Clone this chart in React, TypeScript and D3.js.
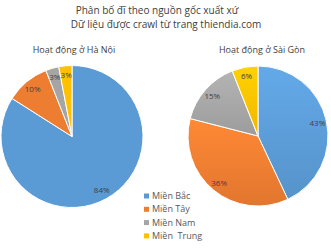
import React from "react";
import * as d3 from "d3";

const categories = ["Miền Bắc", "Miền Tây", "Miền Nam", "Miền  Trung"];
const hanoiValues = [84, 10, 3, 3];
const saigonValues = [43, 36, 15, 6];
const colors = ["#5B9BD5", "#ED7D31", "#A5A5A5", "#FFC000"];
const titleLines = ["Phân bố đĩ theo nguồn gốc xuất xứ", "Dữ liệu được crawl từ trang thiendia.com"];
const pieTitles = ["Hoạt động ở Hà Nội", "Hoạt động ở Sài Gòn"];

const FONT = "'Open Sans', 'Noto Sans', sans-serif";

function Pie({ values, cx, cy, r, title, titleX, gradient, idp }: any) {
  const pie = d3.pie<number>().sort(null).value((d) => d);
  const arcs = pie(values);
  const arc = d3.arc<any>().innerRadius(0).outerRadius(r);
  const labelArc = d3.arc<any>().innerRadius(r * 0.87).outerRadius(r * 0.87);
  return (
    <g>
      {gradient && (
        <defs>
          {colors.map((c, i) => (
            <linearGradient key={i} id={`${idp}g${i}`} x1="0" y1="0" x2="0" y2="1">
              <stop offset="0" stopColor={d3.color(c)!.brighter(0.25).toString()} />
              <stop offset="1" stopColor={d3.color(c)!.darker(0.15).toString()} />
            </linearGradient>
          ))}
        </defs>
      )}
      <text x={titleX} y={53} textAnchor="middle" fontSize={9} fill="#404040" fontFamily={FONT}>
        {title}
      </text>
      <g transform={`translate(${cx},${cy})`}>
        {arcs.map((a, i) => (
          <path
            key={i}
            d={arc(a) || ""}
            fill={gradient ? `url(#${idp}g${i})` : colors[i]}
            stroke="#fff"
            strokeWidth={1}
          />
        ))}
        {arcs.map((a, i) => {
          const [x, y] = labelArc.centroid(a);
          return (
            <text key={i} x={x} y={y} dy="0.35em" textAnchor="middle" fontSize={8} fill="#404040" fontFamily={FONT}>
              {values[i]}%
            </text>
          );
        })}
      </g>
    </g>
  );
}

export default function App() {
  const W = 331, H = 250;
  return (
    <svg width={W} height={H} style={{ position: "absolute", left: 0, top: 0, background: "#fff" }}>
      <rect width={W} height={H} fill="#fff" />
      <text x={157} y={14} textAnchor="middle" fontSize={10} fill="#404040" fontFamily={FONT}>
        {titleLines[0]}
      </text>
      <text x={166} y={28} textAnchor="middle" fontSize={10} fill="#404040" fontFamily={FONT}>
        {titleLines[1]}
      </text>
      <Pie values={hanoiValues} cx={72} cy={136.5} r={71} title={pieTitles[0]} titleX={74} gradient={false} idp="hn" />
      <Pie values={saigonValues} cx={258} cy={136} r={70} title={pieTitles[1]} titleX={262} gradient={true} idp="sg" />
      {categories.map((c, i) => (
        <g key={c} transform={`translate(144,${196 + i * 13.3})`}>
          <rect x={0} y={-2.5} width={5} height={5} fill={colors[i]} />
          <text x={8} y={0} dy="0.35em" fontSize={9} fill="#595959" fontFamily={FONT} style={{ whiteSpace: "pre" }}>
            {c}
          </text>
        </g>
      ))}
    </svg>
  );
}
